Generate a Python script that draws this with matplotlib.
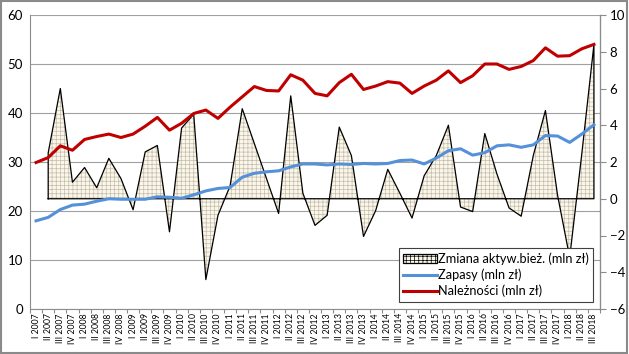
import numpy as np
import matplotlib
matplotlib.use('Agg')
import matplotlib.pyplot as plt
from matplotlib.patches import Patch, Rectangle
from matplotlib.lines import Line2D

plt.rcParams['font.family'] = ['Lato', 'DejaVu Sans']
plt.rcParams['hatch.linewidth'] = 0.5

kwartaly = ['I', 'II', 'III', 'IV']
lata = [2007, 2008, 2009, 2010, 2011, 2012, 2013, 2014, 2015, 2016, 2017, 2018]
etykiety = [k + ' ' + str(r) for r in lata for k in kwartaly][:47]

# zmiana aktywow biezacych (prawa os), pierwszy kwartal bez wartosci
zmiana = [np.nan, 2.5, 6.0, 0.9, 1.7, 0.6, 2.2, 1.1, -0.6, 2.55,
          2.9, -1.8, 3.85, 4.6, -4.4, -0.9, 0.7, 4.9, 3.0, 1.1,
          -0.8, 5.6, 0.3, -1.45, -0.9, 3.9, 2.35, -2.05, -0.65, 1.6,
          0.3, -1.05, 1.25, 2.35, 4.0, -0.45, -0.7, 3.55, 1.35, -0.5,
          -0.95, 2.35, 4.8, 0.2, -3.2, 2.45, 8.4]
zapasy = [18.0, 18.7, 20.3, 21.2, 21.4, 22.0, 22.5, 22.4, 22.4, 22.4,
          22.9, 22.8, 22.6, 23.3, 24.1, 24.6, 24.8, 26.9, 27.7, 28.0,
          28.2, 29.0, 29.6, 29.6, 29.4, 29.6, 29.5, 29.7, 29.6, 29.7,
          30.3, 30.4, 29.6, 30.8, 32.3, 32.7, 31.4, 31.9, 33.3, 33.5,
          33.0, 33.5, 35.4, 35.3, 34.0, 35.7, 37.6]
naleznosci = [29.9, 30.9, 33.3, 32.4, 34.6, 35.2, 35.7, 35.0, 35.7, 37.3,
              39.1, 36.5, 37.9, 39.9, 40.6, 38.9, 41.2, 43.3, 45.4, 44.6,
              44.5, 47.8, 46.7, 44.0, 43.5, 46.2, 47.9, 44.8, 45.5, 46.4,
              46.1, 44.0, 45.5, 46.7, 48.6, 46.2, 47.6, 50.0, 50.0, 48.9,
              49.5, 50.7, 53.3, 51.6, 51.7, 53.1, 54.0]

x = np.arange(len(etykiety))
z = np.array(zmiana)
ok = ~np.isnan(z)
xz = x[ok]
zz = z[ok]

szary = '#8c8c8c'
fig = plt.figure(figsize=(6.29, 3.54), dpi=100)
poz = [30 / 629, 1 - 309 / 354, 570 / 629, 294 / 354]
ax1 = fig.add_axes(poz)
ax2 = ax1.twinx()
ax3 = fig.add_axes(poz, sharex=ax1, sharey=ax1)
ax3.axis('off')

# os lewa z siatka
ax1.set_xlim(-0.5, len(x) - 0.5)
ax1.set_ylim(0, 60)
ax1.set_yticks(range(0, 61, 10))
ax1.yaxis.grid(True, color='#a0a0a0', linewidth=0.8)
ax1.set_axisbelow(True)
ax1.tick_params(axis='y', length=0, pad=5, labelsize=9.5)
ax1.set_xticks(x)
ax1.set_xticklabels(etykiety, rotation=90, fontsize=6.2)
ax1.set_xticks(np.arange(len(x) + 1) - 0.5, minor=True)
ax1.tick_params(axis='x', which='major', length=0, pad=3)
ax1.tick_params(axis='x', which='minor', length=3, color=szary, width=0.8)
ax1.spines['top'].set_visible(False)
for s in ['left', 'bottom']:
    ax1.spines[s].set_color(szary)

# os prawa z polem
ax2.set_ylim(-6, 10)
ax2.set_yticks(range(-6, 11, 2))
ax2.tick_params(axis='y', length=4, color=szary, pad=3, labelsize=9.5)
ax2.spines['right'].set_color(szary)
ax2.spines['top'].set_visible(False)
ax2.spines['left'].set_visible(False)
ax2.spines['bottom'].set_visible(False)
ax2.fill_between(xz, 0, zz, facecolor='#faf6ea', edgecolor='#c4bcab',
                 hatch='++++', linewidth=0)
obrys_x = np.concatenate([[xz[0]], xz, [xz[-1], xz[0]]])
obrys_y = np.concatenate([[0], zz, [0, 0]])
ax2.plot(obrys_x, obrys_y, color='black', linewidth=0.9)

# linie
ax3.plot(x, zapasy, color='#5591d8', linewidth=2.2)
ax3.plot(x, naleznosci, color='#c00000', linewidth=2.2)

uchwyty = [Patch(facecolor='#faf6ea', edgecolor='black', hatch='++++', linewidth=0.9),
           Line2D([], [], color='#5591d8', linewidth=2.2),
           Line2D([], [], color='#c00000', linewidth=2.2)]
opisy = ['Zmiana aktyw.bież. (mln zł)', 'Zapasy (mln zł)', 'Należności (mln zł)']
leg = ax3.legend(uchwyty, opisy, loc='lower right', bbox_to_anchor=(0.988, 0.024),
                 fontsize=9.2, frameon=True, fancybox=False, framealpha=1,
                 edgecolor='#404040', handlelength=2.6, handletextpad=0.1,
                 labelspacing=0.3, borderpad=0.35, borderaxespad=0)
leg.get_frame().set_linewidth(0.8)

fig.patches.append(Rectangle((0.002, 0.003), 0.995, 0.993, transform=fig.transFigure,
                             fill=False, edgecolor='#8a8a8a', linewidth=1.5))

fig.savefig('out.png', dpi=100)
